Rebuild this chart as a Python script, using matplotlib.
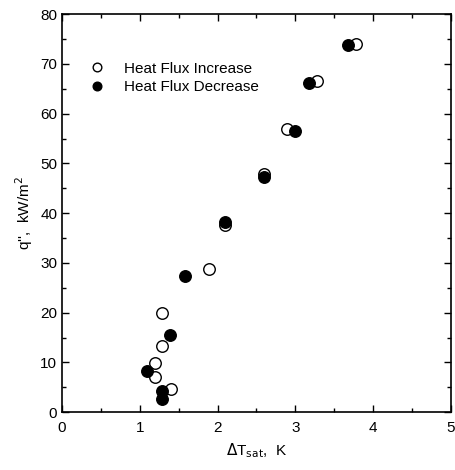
import matplotlib
matplotlib.use("Agg")
import matplotlib.pyplot as plt
from matplotlib.ticker import MultipleLocator

plt.rcParams['font.family'] = ['Liberation Sans', 'DejaVu Sans']

inc_dT = [3.78, 3.28, 2.89, 2.60, 2.09, 1.885, 1.28, 1.28, 1.19, 1.19, 1.40]
inc_q = [73.9, 66.5, 57.0, 47.9, 37.6, 28.7, 20.0, 13.3, 9.9, 7.1, 4.7]
dec_dT = [3.68, 3.17, 2.99, 2.59, 2.09, 1.585, 1.39, 1.09, 1.28, 1.28]
dec_q = [73.8, 66.1, 56.5, 47.3, 38.3, 27.3, 15.5, 8.3, 4.3, 2.6]

fig = plt.figure(figsize=(4.56, 4.70), dpi=100)
ax = fig.add_axes([0.136, 0.123, 0.853, 0.847])

ax.plot(inc_dT, inc_q, 'o', mfc='white', mec='black', mew=1.0, ms=8.3,
        linestyle='none', label='Heat Flux Increase')
ax.plot(dec_dT, dec_q, 'o', mfc='black', mec='black', mew=1.0, ms=8.3,
        linestyle='none', label='Heat Flux Decrease')

ax.set_xlim(0, 5)
ax.set_ylim(0, 80)
ax.xaxis.set_major_locator(MultipleLocator(1))
ax.xaxis.set_minor_locator(MultipleLocator(0.5))
ax.yaxis.set_major_locator(MultipleLocator(10))
ax.yaxis.set_minor_locator(MultipleLocator(5))
ax.tick_params(which='both', direction='in', top=True, right=True, labelsize=11)
ax.tick_params(axis='x', which='major', pad=6)
ax.tick_params(which='major', length=5, width=1)
ax.tick_params(which='minor', length=3, width=1)
for s in ax.spines.values():
    s.set_linewidth(1.2)

ax.set_xlabel(r"$\Delta$T$_{\rm sat}$,  K", fontsize=11, labelpad=5)
ax.set_ylabel(r"q'',  kW/m$^2$", fontsize=11, labelpad=4)

ax.legend(loc='upper left', bbox_to_anchor=(0.015, 0.915), frameon=False,
          fontsize=11, handletextpad=0.8, borderaxespad=0.5, labelspacing=0.3,
          markerscale=0.75)

fig.savefig('out.png', dpi=100)
